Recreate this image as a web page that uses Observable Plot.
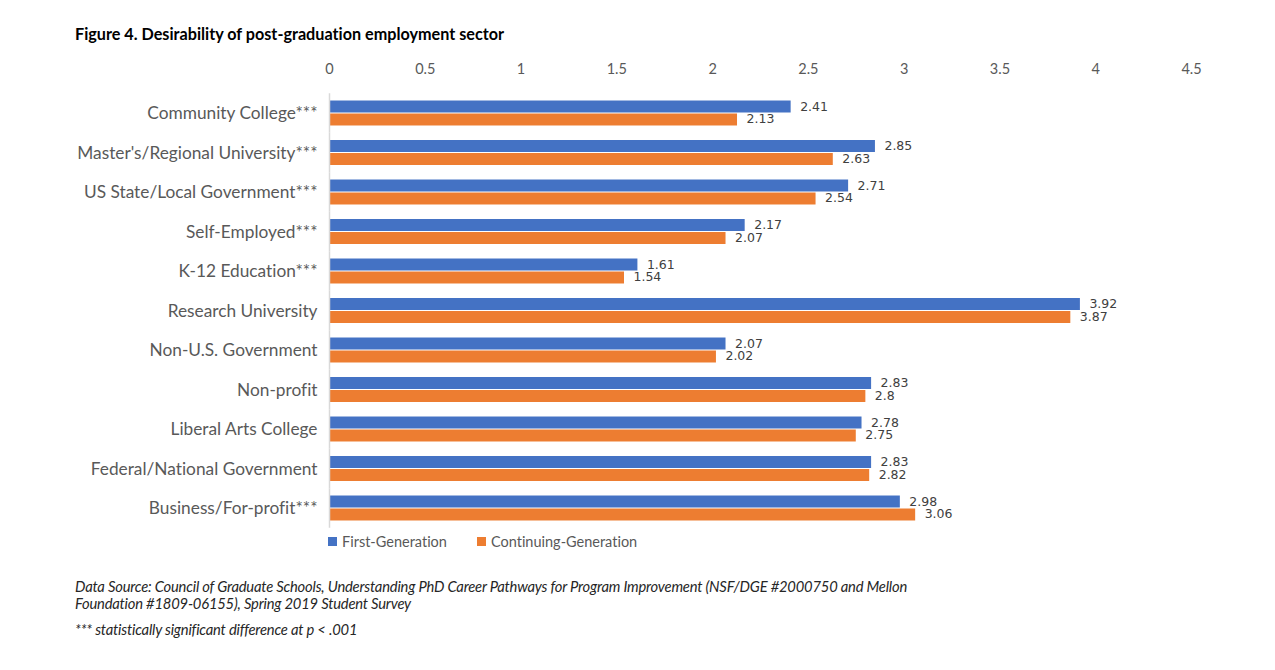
<!DOCTYPE html>
<html><head><meta charset="utf-8">
<script src="https://cdn.jsdelivr.net/npm/d3@7"></script>
<script src="https://cdn.jsdelivr.net/npm/@observablehq/plot@0.6"></script>
<style>
body{margin:0;background:#fff;font-family:Lato,sans-serif;font-variant-ligatures:none;}
svg, svg text{font-variant-ligatures:none;}
#wrap{position:relative;width:1275px;height:670px;overflow:hidden;}
#title{position:absolute;left:75px;top:24px;font-weight:bold;font-size:16.2px;color:#000;}
#chart{position:absolute;left:0;top:55px;}
#legend{position:absolute;left:328px;top:533px;font-size:14.5px;color:#595959;display:flex;gap:0;}
.li{display:flex;align-items:center;}
.sw{width:9px;height:9px;margin-right:5px;}
#notes{position:absolute;left:75px;top:578px;font-style:italic;font-size:14.75px;color:#262626;line-height:17px;letter-spacing:-0.2px;}
</style></head>
<body><div id="wrap">
<div id="title">Figure 4. Desirability of post-graduation employment sector</div>
<div id="chart"></div>
<div id="legend"></div>
<div id="notes">Data Source: Council of Graduate Schools, Understanding PhD Career Pathways for Program Improvement (NSF/DGE #2000750 and Mellon<br>Foundation #1809-06155), Spring 2019 Student Survey<div style="margin-top:9px">*** statistically significant difference at p &lt; .001</div></div>
</div>
<script>
const categories = ["Community College***","Master's/Regional University***","US State/Local Government***","Self-Employed***","K-12 Education***","Research University","Non-U.S. Government","Non-profit","Liberal Arts College","Federal/National Government","Business/For-profit***"];
const series = ["First-Generation","Continuing-Generation"];
const firstGen = [2.41,2.85,2.71,2.17,1.61,3.92,2.07,2.83,2.78,2.83,2.98];
const contGen = [2.13,2.63,2.54,2.07,1.54,3.87,2.02,2.8,2.75,2.82,3.06];
const xTicks = [0,0.5,1,1.5,2,2.5,3,3.5,4,4.5];
const colors = ["#4472C4","#ED7D31"];

const rows = [];
categories.forEach((c,i)=>{
  rows.push({category:c, series:series[0], value:firstGen[i]});
  rows.push({category:c, series:series[1], value:contGen[i]});
});

const chart = Plot.plot({
  width:1275, height:478,
  marginLeft:329, marginRight:84, marginTop:38.25, marginBottom:5.25,
  style:{fontFamily:"Lato, sans-serif", fontSize:"13px", color:"#595959", background:"transparent", fontVariantLigatures:"none"},
  x:{domain:[0,4.5]},
  fy:{domain:categories, padding:0, round:false},
  y:{domain:series, paddingInner:0, paddingOuter:0.52, axis:null, round:false},
  color:{domain:series, range:colors},
  marks:[
    Plot.axisX({anchor:"top", ticks:xTicks, tickSize:0, tickPadding:20, label:null, tickFormat:d=>String(d), fill:"#595959", fontSize:14.5}),
    Plot.axisFy({anchor:"left", tickSize:0, tickPadding:12, label:null, fill:"#595959", fontSize:17.3}),
    Plot.barX(rows, {fy:"category", y:"series", x:"value", fill:"series", insetTop:0.5, insetBottom:0.5}),
    Plot.ruleX([0], {stroke:"#d9d9d9", strokeWidth:1.5}),
    Plot.text(rows, {fy:"category", y:"series", x:"value", text:d=>String(d.value), dx:9, dy:-0.5, textAnchor:"start", fill:"#404040", fontSize:12.5, fontFamily:"DejaVu Sans, sans-serif"})
  ]
});
document.getElementById("chart").appendChild(chart);

const lg = document.getElementById("legend");
series.forEach((s,i)=>{
  const d = document.createElement("div"); d.className="li";
  d.style.marginRight = i===0 ? "30px" : "0";
  d.innerHTML = `<span class="sw" style="background:${colors[i]}"></span>${s}`;
  lg.appendChild(d);
});
</script>
</body></html>
